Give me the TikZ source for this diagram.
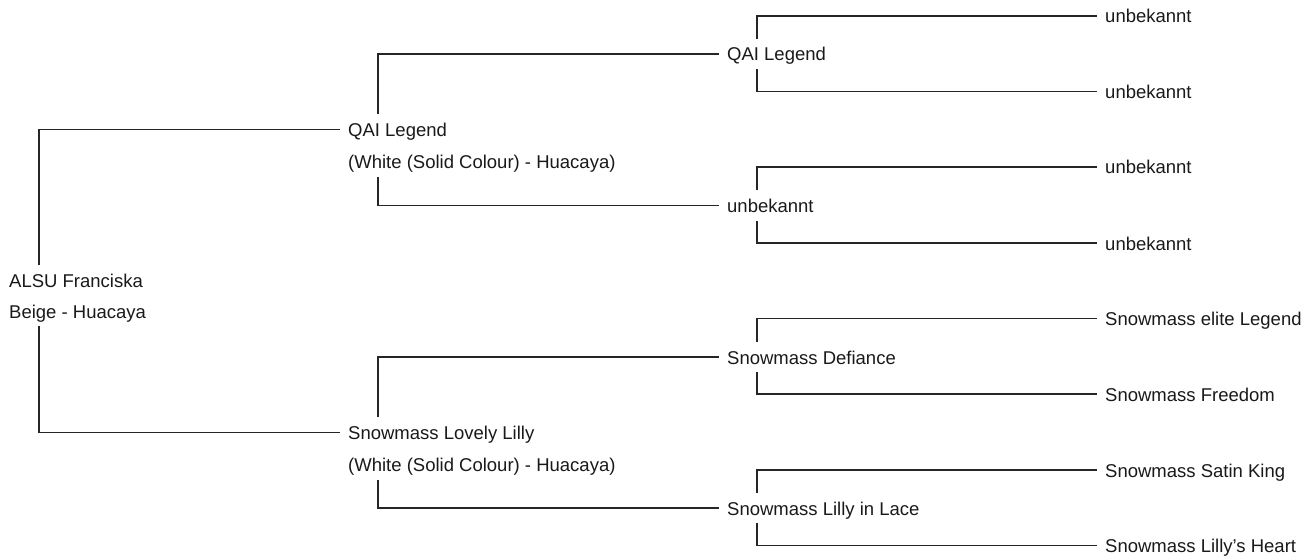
\documentclass[tikz,border=0pt]{standalone}
\usepackage{fontspec}
\setmainfont{Liberation Sans}
\begin{document}
\begin{tikzpicture}[x=1pt,y=-1pt,
  lbl/.style={anchor=west, inner xsep=8pt, inner ysep=0pt, text height=22pt, text depth=8pt,
    font=\fontsize{18.5}{22}\selectfont, text=black!90},
  conn/.style={draw=black!85, line width=1.3pt}]
\useasboundingbox (0,0) rectangle (1308,556);
% root
\node[lbl] (r) at (1,280) {ALSU Franciska};
\node[lbl] (rd) at (1,311) {Beige - Huacaya};
% generation 1
\node[lbl] (p1) at (340,129.5) {QAI Legend};
\node[lbl] (p1d) at (340,161.5) {(White (Solid Colour) - Huacaya)};
\node[lbl] (p2) at (340,432.5) {Snowmass Lovely Lilly};
\node[lbl] (p2d) at (340,464.5) {(White (Solid Colour) - Huacaya)};
% generation 2
\node[lbl] (g1) at (719,54) {QAI Legend};
\node[lbl] (g2) at (719,205.5) {unbekannt};
\node[lbl] (g3) at (719,357) {Snowmass Defiance};
\node[lbl] (g4) at (719,508) {Snowmass Lilly in Lace};
% generation 3
\node[lbl] (h1) at (1097,16) {unbekannt};
\node[lbl] (h2) at (1097,91.5) {unbekannt};
\node[lbl] (h3) at (1097,167) {unbekannt};
\node[lbl] (h4) at (1097,243) {unbekannt};
\node[lbl] (h5) at (1097,318.5) {Snowmass elite Legend};
\node[lbl] (h6) at (1097,394) {Snowmass Freedom};
\node[lbl] (h7) at (1097,470) {Snowmass Satin King};
\node[lbl] (h8) at (1097,545.5) {Snowmass Lilly{\char"27}s Heart};
% connectors
\draw[conn] ([xshift=38pt]r.north west) |- (p1.west);
\draw[conn] ([xshift=38pt]rd.south west) |- (p2.west);
\draw[conn] ([xshift=38pt]p1.north west) |- (g1.west);
\draw[conn] ([xshift=38pt]p1d.south west) |- (g2.west);
\draw[conn] ([xshift=38pt]p2.north west) |- (g3.west);
\draw[conn] ([xshift=38pt]p2d.south west) |- (g4.west);
\draw[conn] ([xshift=38pt]g1.north west) |- (h1.west);
\draw[conn] ([xshift=38pt]g1.south west) |- (h2.west);
\draw[conn] ([xshift=38pt]g2.north west) |- (h3.west);
\draw[conn] ([xshift=38pt]g2.south west) |- (h4.west);
\draw[conn] ([xshift=38pt]g3.north west) |- (h5.west);
\draw[conn] ([xshift=38pt]g3.south west) |- (h6.west);
\draw[conn] ([xshift=38pt]g4.north west) |- (h7.west);
\draw[conn] ([xshift=38pt]g4.south west) |- (h8.west);
\end{tikzpicture}
\end{document}
